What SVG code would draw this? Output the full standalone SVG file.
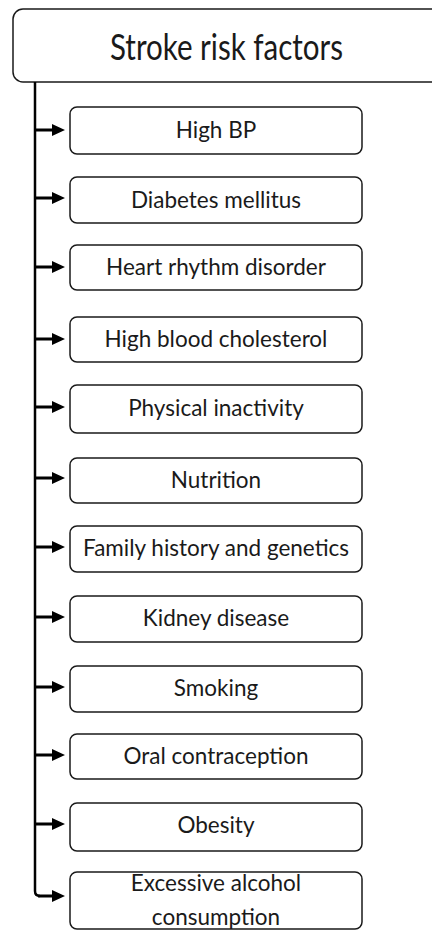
<svg xmlns="http://www.w3.org/2000/svg" width="432" height="931" viewBox="0 0 432 931">
<style>
.box{fill:#fff;stroke:#1a1a1a;stroke-width:1.5}
.t{font-family:Lato,"Open Sans",sans-serif;font-size:22.5px;fill:#1a1a1a;text-anchor:middle}
.title{font-size:36px}
.c{fill:none;stroke:#000;stroke-width:2.5}
</style>
<rect width="432" height="931" fill="#fff"/>
<g id="root">
<rect class="box" x="13" y="9" width="440" height="73" rx="10"/>
<text class="t title" x="226.5" y="60" textLength="233" lengthAdjust="spacingAndGlyphs">Stroke risk factors</text>
</g>
<g id="connectors">
<path class="c" d="M35,82 V891 Q35,896 40,896"/>
<g fill="#000">
<path d="M34,128.5 h18 v-4.5 l13,6 l-13,6 v-4.5 h-18 z"/>
<path d="M34,196.5 h18 v-4.5 l13,6 l-13,6 v-4.5 h-18 z"/>
<path d="M34,265.5 h18 v-4.5 l13,6 l-13,6 v-4.5 h-18 z"/>
<path d="M34,337.5 h18 v-4.5 l13,6 l-13,6 v-4.5 h-18 z"/>
<path d="M34,405.5 h18 v-4.5 l13,6 l-13,6 v-4.5 h-18 z"/>
<path d="M34,476.5 h18 v-4.5 l13,6 l-13,6 v-4.5 h-18 z"/>
<path d="M34,545.5 h18 v-4.5 l13,6 l-13,6 v-4.5 h-18 z"/>
<path d="M34,615.5 h18 v-4.5 l13,6 l-13,6 v-4.5 h-18 z"/>
<path d="M34,685.5 h18 v-4.5 l13,6 l-13,6 v-4.5 h-18 z"/>
<path d="M34,753.5 h18 v-4.5 l13,6 l-13,6 v-4.5 h-18 z"/>
<path d="M34,822.5 h18 v-4.5 l13,6 l-13,6 v-4.5 h-18 z"/>
<path d="M38,894.5 h14 v-4.5 l13,6 l-13,6 v-4.5 h-14 z"/>
</g>
</g>
<g id="n1"><rect class="box" x="70" y="107" width="292" height="47" rx="7"/><text class="t" x="216" y="138">High BP</text></g>
<g id="n2"><rect class="box" x="70" y="177" width="292" height="46" rx="7"/><text class="t" x="216" y="208">Diabetes mellitus</text></g>
<g id="n3"><rect class="box" x="70" y="245" width="292" height="45" rx="7"/><text class="t" x="216" y="275">Heart rhythm disorder</text></g>
<g id="n4"><rect class="box" x="70" y="317" width="292" height="45" rx="7"/><text class="t" x="216" y="347">High blood cholesterol</text></g>
<g id="n5"><rect class="box" x="70" y="385" width="292" height="48" rx="7"/><text class="t" x="216" y="416">Physical inactivity</text></g>
<g id="n6"><rect class="box" x="70" y="458" width="292" height="45" rx="7"/><text class="t" x="216" y="488">Nutrition</text></g>
<g id="n7"><rect class="box" x="70" y="526" width="292" height="46" rx="7"/><text class="t" x="216" y="556">Family history and genetics</text></g>
<g id="n8"><rect class="box" x="70" y="596" width="292" height="46" rx="7"/><text class="t" x="216" y="626">Kidney disease</text></g>
<g id="n9"><rect class="box" x="70" y="666" width="292" height="46" rx="7"/><text class="t" x="216" y="696">Smoking</text></g>
<g id="n10"><rect class="box" x="70" y="734" width="292" height="45" rx="7"/><text class="t" x="216" y="764">Oral contraception</text></g>
<g id="n11"><rect class="box" x="70" y="803" width="292" height="48" rx="7"/><text class="t" x="216" y="833">Obesity</text></g>
<g id="n12"><rect class="box" x="70" y="872" width="292" height="57" rx="7"/><text class="t" x="216" y="891">Excessive alcohol</text><text class="t" x="216" y="925">consumption</text></g>
</svg>
